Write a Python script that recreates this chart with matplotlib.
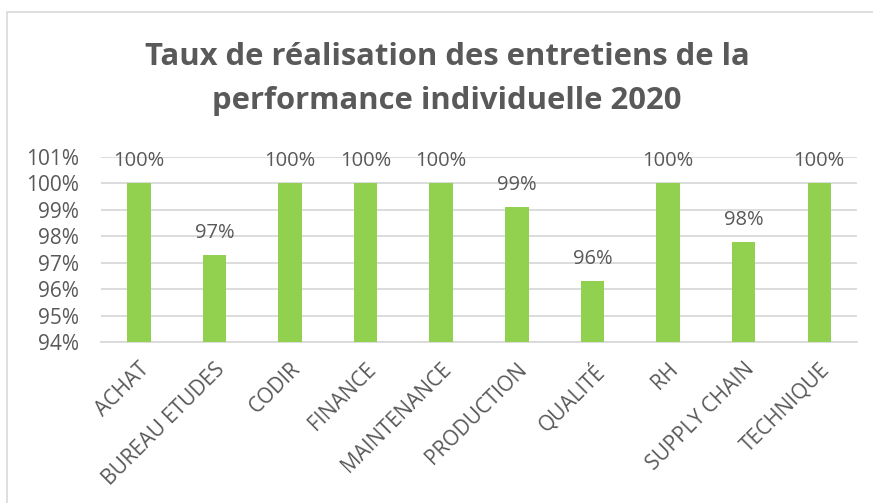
import matplotlib
matplotlib.use("Agg")
import matplotlib.pyplot as plt
import numpy as np
from matplotlib.patches import Rectangle
from matplotlib.ticker import FuncFormatter

# --- données ---
services = ['ACHAT', 'BUREAU ETUDES', 'CODIR', 'FINANCE', 'MAINTENANCE',
            'PRODUCTION', 'QUALITÉ', 'RH', 'SUPPLY CHAIN', 'TECHNIQUE']
taux = [100.0, 97.3, 100.0, 100.0, 100.0, 99.1, 96.3, 100.0, 97.8, 100.0]
etiquettes = ['100%', '97%', '100%', '100%', '100%', '99%', '96%', '100%', '98%', '100%']

TITRE = 'Taux de réalisation des entretiens de la\nperformance individuelle 2020'

VERT = '#92d050'
GRIS_TEXTE = '#595959'
GRIS_GRILLE = '#d9d9d9'

plt.rcParams['font.family'] = ['Open Sans', 'DejaVu Sans']

fig = plt.figure(figsize=(8.73, 5.03), dpi=100)
ax = fig.add_axes([0.1157, 0.320, 0.866, 0.368])

# cadre du graphique
fig.patches.append(Rectangle((7 / 873, -0.05), 1.0, 1 - 12 / 503 + 0.05,
                             transform=fig.transFigure, fill=False,
                             edgecolor=GRIS_GRILLE, linewidth=1.2))

x = np.arange(len(services))
ax.bar(x, [t - 94 for t in taux], bottom=94, width=0.31, color=VERT, zorder=3)

for xi, t, lab in zip(x, taux, etiquettes):
    ax.text(xi, t + 0.45, lab, ha='center', va='bottom', fontsize=14.5,
            color=GRIS_TEXTE, zorder=4)

ax.set_xlim(-0.5, len(services) - 0.5)
ax.set_ylim(94, 101)
ax.set_yticks(np.arange(94, 102, 1))
ax.yaxis.set_major_formatter(FuncFormatter(lambda v, p: f'{v:.0f}%'))
ax.grid(axis='y', color=GRIS_GRILLE, linewidth=1.3, zorder=0)
ax.set_axisbelow(True)

for s in ['top', 'right', 'left']:
    ax.spines[s].set_visible(False)
ax.spines['bottom'].set_color(GRIS_GRILLE)
ax.spines['bottom'].set_linewidth(1.3)
ax.tick_params(axis='both', length=0, colors=GRIS_TEXTE, labelsize=15)
ax.tick_params(axis='y', pad=16)

ax.set_xticks(x)
ax.set_xticklabels(services, rotation=45, ha='right', rotation_mode='anchor')
ax.tick_params(axis='x', pad=12)

fig.text(447 / 873, 1 - 79 / 503, TITRE, ha='center', va='center', fontsize=22.3,
         fontweight='bold', color=GRIS_TEXTE, linespacing=1.6)

fig.savefig('out.png', dpi=100)
